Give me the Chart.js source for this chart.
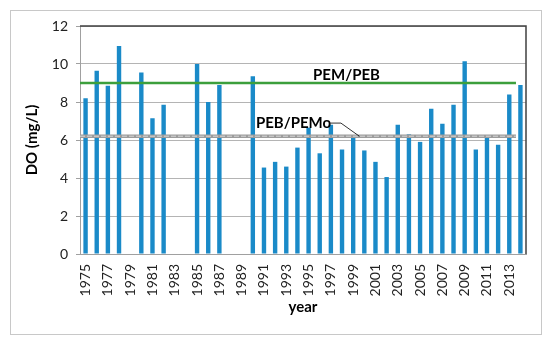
<!DOCTYPE html>
<html>
<head>
<meta charset="utf-8">
<script src="https://cdn.jsdelivr.net/npm/chart.js@4/dist/chart.umd.min.js"></script>
<style>
html,body{margin:0;padding:0;background:#fff;}
#wrap{width:550px;height:341px;position:relative;}
</style>
</head>
<body>
<div id="wrap"><canvas id="c" width="550" height="341"></canvas></div>
<script>
const years = [];
for (let y = 1975; y <= 2014; y++) years.push(y);
const doValues = [8.2, 9.65, 8.85, 10.95, null, 9.55, 7.15, 7.85, null, null,
  10.0, 8.0, 8.9, null, null, 9.35, 4.55, 4.85, 4.6, 5.6,
  6.65, 5.3, 6.8, 5.5, 6.2, 5.45, 4.85, 4.05, 6.8, 6.3,
  5.9, 7.65, 6.85, 7.85, 10.15, 5.5, 6.15, 5.75, 8.4, 8.9];
const xTickYears = [1975, 1977, 1979, 1981, 1983, 1985, 1987, 1989, 1991, 1993,
  1995, 1997, 1999, 2001, 2003, 2005, 2007, 2009, 2011, 2013];
const yTicks = [0, 2, 4, 6, 8, 10, 12];
const pemPeb = 9.0;
const pebPemo = 6.2;
const refLineStart = 1974.5;
const refLineEnd = 2013.6;
const labelPemPeb = {text: 'PEM/PEB', x: 1998.4, y: 9.41};
const labelPebPemo = {text: 'PEB/PEMo', x: 1993.65, y: 6.87};
const leaderPoints = [[1996.95, 6.89], [1997.9, 6.89], [1999.55, 6.2]];

const FONT = 'Lato, "Open Sans", sans-serif';

const barData = years.map((y, i) => ({x: y, y: doValues[i]}));

const decor = {
  id: 'decor',
  beforeDraw(chart) {
    const ctx = chart.ctx;
    ctx.save();
    ctx.fillStyle = '#fff';
    ctx.fillRect(0, 0, chart.width, chart.height);
    ctx.strokeStyle = '#c8c8c8';
    ctx.lineWidth = 1;
    ctx.strokeRect(10.5, 10.5, 531, 324);
    ctx.restore();
  },
  afterDatasetsDraw(chart) {
    const ctx = chart.ctx;
    const a = chart.chartArea;
    const xs = chart.scales.x, ys = chart.scales.y;
    ctx.save();
    ctx.strokeStyle = '#404040';
    ctx.lineWidth = 1.5;
    ctx.beginPath();
    ctx.moveTo(a.left, a.top);
    ctx.lineTo(a.right, a.top);
    ctx.lineTo(a.right, a.bottom);
    ctx.stroke();
    ctx.fillStyle = '#000';
    ctx.font = 'bold 15px ' + FONT;
    ctx.textAlign = 'center';
    ctx.textBaseline = 'middle';
    [labelPemPeb, labelPebPemo].forEach(l => {
      ctx.fillText(l.text, xs.getPixelForValue(l.x), ys.getPixelForValue(l.y));
    });
    ctx.strokeStyle = '#000';
    ctx.lineWidth = 0.8;
    ctx.beginPath();
    leaderPoints.forEach((p, i) => {
      const px = xs.getPixelForValue(p[0]), py = ys.getPixelForValue(p[1]);
      if (i === 0) ctx.moveTo(px, py); else ctx.lineTo(px, py);
    });
    ctx.stroke();
    ctx.restore();
  }
};

new Chart(document.getElementById('c'), {
  type: 'bar',
  data: {
    datasets: [
      {
        type: 'line',
        data: [{x: refLineStart, y: pemPeb}, {x: refLineEnd, y: pemPeb}],
        borderColor: '#3c9f3c', borderWidth: 2.5, pointRadius: 0, order: 0
      },
      {
        type: 'line',
        data: [{x: refLineStart, y: pebPemo}, {x: refLineEnd, y: pebPemo}],
        borderColor: '#9c9c9c', borderWidth: 3.5, pointRadius: 0, order: 1
      },
      {
        type: 'line',
        data: [{x: refLineStart, y: pebPemo}, {x: refLineEnd, y: pebPemo}],
        borderColor: '#d8d8d8', borderWidth: 1, borderDash: [5, 2], pointRadius: 0, order: 0
      },
      {
        type: 'bar',
        data: barData,
        backgroundColor: '#1a8ac8',
        grouped: false,
        maxBarThickness: 4.4, order: 2
      }
    ]
  },
  options: {
    responsive: false,
    animation: false,
    devicePixelRatio: 1,
    layout: {padding: {left: 19, right: 24, top: 26, bottom: 21}},
    plugins: {legend: {display: false}, tooltip: {enabled: false}},
    scales: {
      x: {
        type: 'linear',
        min: 1974.5, max: 2014.5,
        offset: false,
        afterBuildTicks(s) { s.ticks = xTickYears.map(v => ({value: v})); },
        grid: {display: false, drawTicks: true, tickLength: 7},
        border: {display: true, color: '#a0a0a0', width: 1},
        ticks: {
          autoSkip: false, minRotation: 90, maxRotation: 90, padding: 3,
          color: '#222', font: {family: FONT, size: 14},
          callback: v => String(v)
        },
        title: {display: true, text: 'year', color: '#000', font: {family: FONT, size: 15, weight: 'bold'}},
        afterFit(s) { s.height = 66; }
      },
      y: {
        min: 0, max: 12,
        afterBuildTicks(s) { s.ticks = yTicks.map(v => ({value: v})); },
        grid: {color: '#b4b4b4', lineWidth: 1, drawTicks: true, tickLength: 4, tickColor: '#a0a0a0'},
        border: {display: true, color: '#a0a0a0', width: 1},
        ticks: {padding: 8, color: '#222', font: {family: FONT, size: 14}},
        title: {display: true, text: 'DO (mg/L)', color: '#000', font: {family: FONT, size: 15, weight: 'bold'}},
        afterFit(s) { s.width = 61; }
      }
    }
  },
  plugins: [decor]
});
</script>
</body>
</html>
